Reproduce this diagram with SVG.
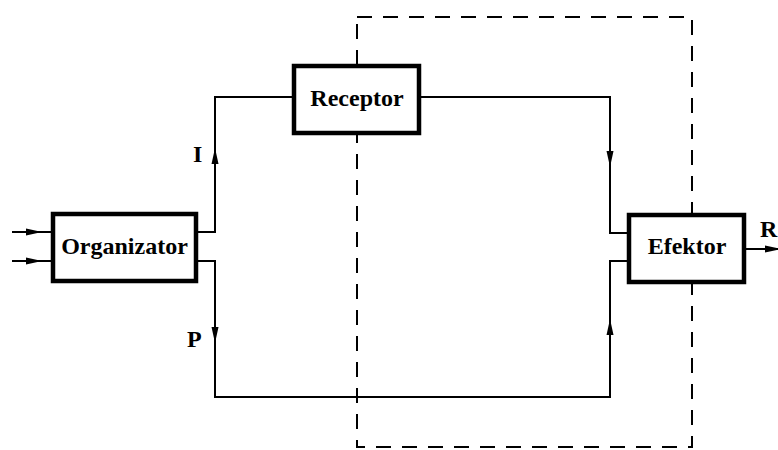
<svg xmlns="http://www.w3.org/2000/svg" width="778" height="450" viewBox="0 0 778 450">
<style>
.box{fill:#fff;stroke:#000;stroke-width:4.5}
.lbl{font-family:"Liberation Serif","Times New Roman",serif;font-weight:bold;font-size:24px;fill:#000}
.wire{fill:none;stroke:#000;stroke-width:2}
.dash{fill:none;stroke:#000;stroke-width:2;stroke-dasharray:15 11}
</style>
<defs>
<marker id="ah" markerUnits="userSpaceOnUse" markerWidth="16" markerHeight="8" refX="16" refY="4" orient="auto" viewBox="0 0 16 8">
<path d="M0,0.5 L16,4 L0,7.5 z" fill="#000"/>
</marker>
</defs>
<rect width="778" height="450" fill="#fff"/>
<rect id="boundary" class="dash" x="357" y="17" width="335" height="430"/>
<g id="connectors">
<path class="wire" d="M12,232 L52,232"/>
<path class="wire" d="M12,261 L52,261"/>
<path class="wire" d="M12,232 L42,232" marker-end="url(#ah)"/>
<path class="wire" d="M12,261 L42,261" marker-end="url(#ah)"/>
<path class="wire" d="M197,232 L215,232 L215,97 L293,97"/>
<path class="wire" d="M215,180 L215,148" marker-end="url(#ah)"/>
<path class="wire" d="M420,97 L610,97 L610,233 L628,233"/>
<path class="wire" d="M610,130 L610,167" marker-end="url(#ah)"/>
<path class="wire" d="M197,261 L215,261 L215,397 L610,397 L610,261 L628,261"/>
<path class="wire" d="M215,310 L215,343" marker-end="url(#ah)"/>
<path class="wire" d="M610,360 L610,319" marker-end="url(#ah)"/>
<path class="wire" d="M745,249 L781,249" marker-end="url(#ah)"/>
</g>
<g id="organizator">
<rect class="box" x="53" y="214" width="143" height="67"/>
<text class="lbl" x="124.5" y="254" text-anchor="middle">Organizator</text>
</g>
<g id="receptor">
<rect class="box" x="294" y="66" width="125" height="67"/>
<text class="lbl" x="357" y="106" text-anchor="middle">Receptor</text>
</g>
<g id="efektor">
<rect class="box" x="629" y="215" width="115" height="67"/>
<text class="lbl" x="687" y="254" text-anchor="middle">Efektor</text>
</g>
<text class="lbl" x="193" y="162">I</text>
<text class="lbl" x="187" y="347">P</text>
<text class="lbl" x="760" y="237">R</text>
</svg>
